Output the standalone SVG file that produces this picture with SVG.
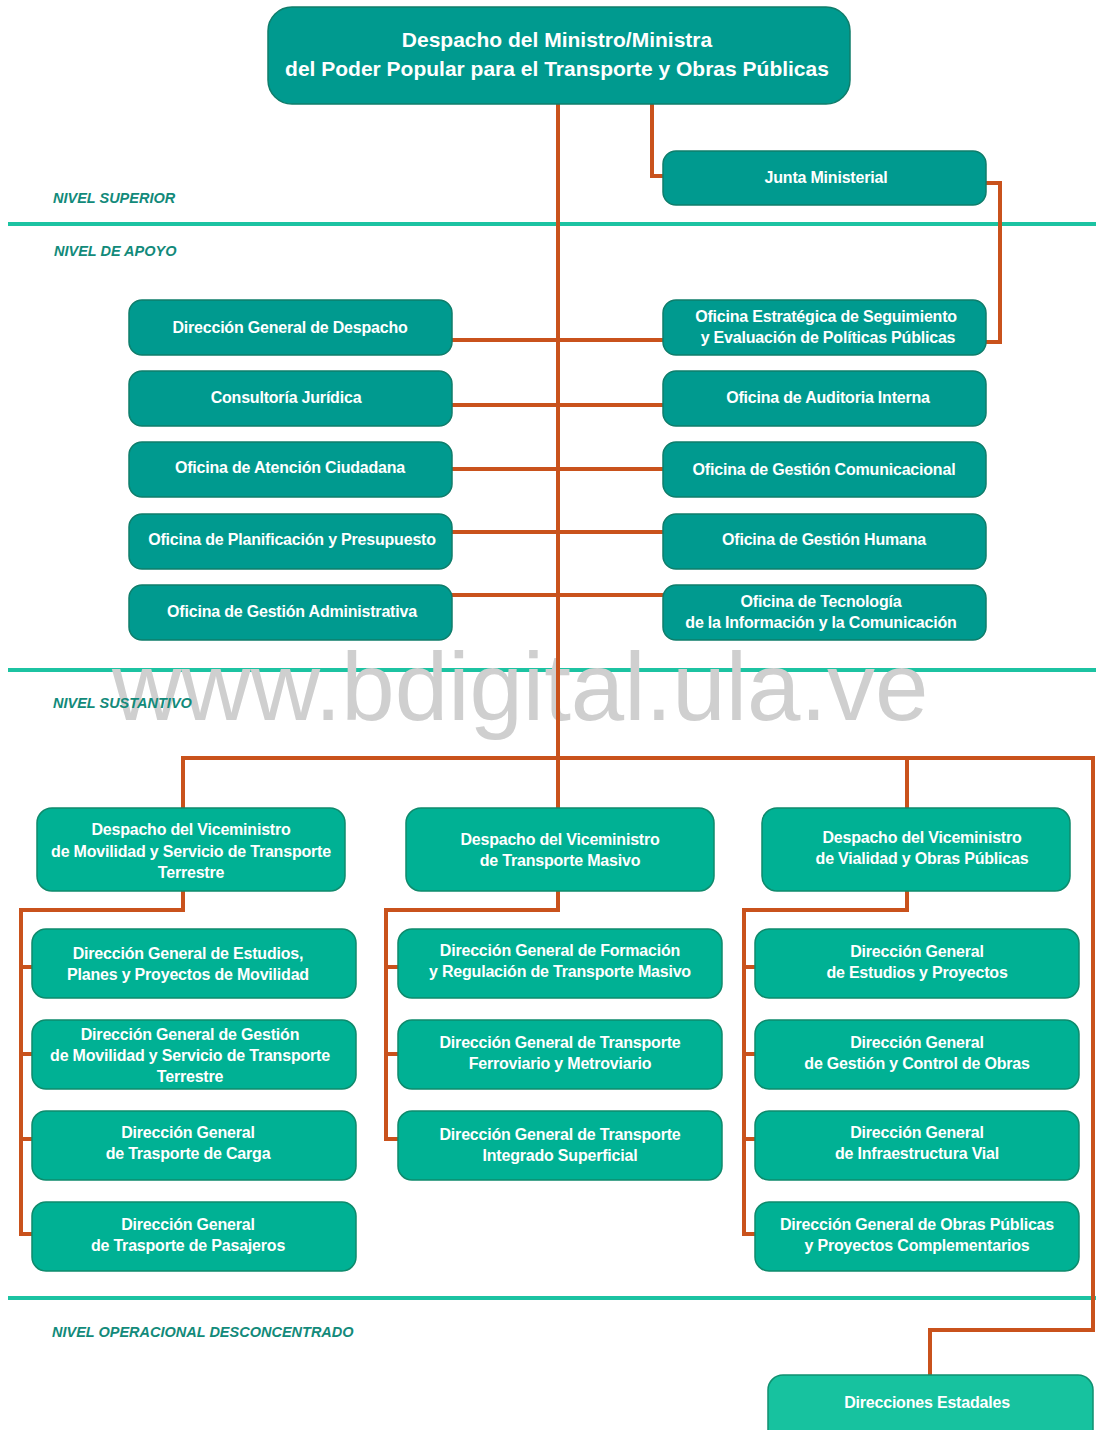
<svg xmlns="http://www.w3.org/2000/svg" width="1096" height="1430" viewBox="0 0 1096 1430">
<style>
.bg{fill:#ffffff}
.sep{stroke:#1cc3a2;stroke-width:4;fill:none}
.lvl{font-family:"Liberation Sans",Arial,sans-serif;font-weight:bold;font-style:italic;font-size:14.5px;fill:#128a7a}
.wm{font-family:"Liberation Sans",Arial,sans-serif;font-size:96px;fill:#cfcfcf}
.c{stroke:#c9521c;stroke-width:4;fill:none;stroke-linejoin:miter}
.d{fill:#009a8f;stroke:#0f7d6b;stroke-width:1.5}
.l{fill:#00b194;stroke:#0e8a6c;stroke-width:1.5}
.e{fill:#17c29f;stroke:#109070;stroke-width:1.5}
.t{font-family:"Liberation Sans",Arial,sans-serif;font-weight:bold;font-size:16px;fill:#ffffff;text-anchor:middle;letter-spacing:-0.2px}
.tb{font-family:"Liberation Sans",Arial,sans-serif;font-weight:bold;font-size:21px;fill:#ffffff;text-anchor:middle}
</style>
<rect class="bg" x="0" y="0" width="1096" height="1430"/>

<g id="separators">
<line class="sep" x1="8" y1="224" x2="1096" y2="224"/>
<line class="sep" x1="8" y1="670" x2="1096" y2="670"/>
<line class="sep" x1="8" y1="1298" x2="1096" y2="1298"/>
</g>

<text class="wm" x="112" y="720">www.bdigital.ula.ve</text>

<g id="levels">
<text class="lvl" x="53" y="203">NIVEL SUPERIOR</text>
<text class="lvl" x="54" y="256">NIVEL DE APOYO</text>
<text class="lvl" x="53" y="708">NIVEL SUSTANTIVO</text>
<text class="lvl" x="52" y="1337">NIVEL OPERACIONAL DESCONCENTRADO</text>
</g>

<g id="connectors">
<path class="c" d="M558 104 V758"/>
<path class="c" d="M652 104 V176 H665"/>
<path class="c" d="M986 183 H1000 V342 H986"/>
<path class="c" d="M452 340 H663"/>
<path class="c" d="M452 405 H663"/>
<path class="c" d="M452 469 H663"/>
<path class="c" d="M452 532 H663"/>
<path class="c" d="M452 595 H663"/>
<path class="c" d="M183 808 V758 H1093 V1330 H930 V1375"/>
<path class="c" d="M558 758 V808"/>
<path class="c" d="M907 758 V808"/>
<path class="c" d="M183 891 V910 H21 V1234 H32"/>
<path class="c" d="M21 967 H32 M21 1054 H32 M21 1139 H32"/>
<path class="c" d="M558 891 V910 H386 V1139 H398"/>
<path class="c" d="M386 967 H398 M386 1054 H398"/>
<path class="c" d="M907 891 V910 H744 V1234 H755"/>
<path class="c" d="M744 967 H755 M744 1054 H755 M744 1139 H755"/>
</g>

<g id="n-ministro">
<rect class="d" x="268" y="7" width="582" height="97" rx="24"/>
<text class="tb" x="557" y="47">Despacho del Ministro/Ministra</text>
<text class="tb" x="557" y="76">del Poder Popular para el Transporte y Obras Públicas</text>
</g>
<g id="n-junta">
<rect class="d" x="663" y="151" width="323" height="54" rx="13"/>
<text class="t" x="826" y="183">Junta Ministerial</text>
</g>

<g id="n-dg-despacho">
<rect class="d" x="129" y="300" width="323" height="55" rx="13"/>
<text class="t" x="290" y="333">Dirección General de Despacho</text>
</g>
<g id="n-consultoria">
<rect class="d" x="129" y="371" width="323" height="55" rx="13"/>
<text class="t" x="286" y="403">Consultoría Jurídica</text>
</g>
<g id="n-atencion">
<rect class="d" x="129" y="442" width="323" height="55" rx="13"/>
<text class="t" x="290" y="473">Oficina de Atención Ciudadana</text>
</g>
<g id="n-planificacion">
<rect class="d" x="129" y="514" width="323" height="55" rx="13"/>
<text class="t" x="292" y="545">Oficina de Planificación y Presupuesto</text>
</g>
<g id="n-administrativa">
<rect class="d" x="129" y="585" width="323" height="55" rx="13"/>
<text class="t" x="292" y="617">Oficina de Gestión Administrativa</text>
</g>

<g id="n-estrategica">
<rect class="d" x="663" y="300" width="323" height="55" rx="13"/>
<text class="t" x="826" y="322">Oficina Estratégica de Seguimiento</text>
<text class="t" x="828" y="343">y Evaluación de Políticas Públicas</text>
</g>
<g id="n-auditoria">
<rect class="d" x="663" y="371" width="323" height="55" rx="13"/>
<text class="t" x="828" y="403">Oficina de Auditoria Interna</text>
</g>
<g id="n-comunicacional">
<rect class="d" x="663" y="442" width="323" height="55" rx="13"/>
<text class="t" x="824" y="475">Oficina de Gestión Comunicacional</text>
</g>
<g id="n-humana">
<rect class="d" x="663" y="514" width="323" height="55" rx="13"/>
<text class="t" x="824" y="545">Oficina de Gestión Humana</text>
</g>
<g id="n-tecnologia">
<rect class="d" x="663" y="585" width="323" height="55" rx="13"/>
<text class="t" x="821" y="607">Oficina de Tecnología</text>
<text class="t" x="821" y="628">de la Información y la Comunicación</text>
</g>

<g id="n-vm-movilidad">
<rect class="l" x="37" y="808" width="308" height="83" rx="15"/>
<text class="t" x="191" y="835">Despacho del Viceministro</text>
<text class="t" x="191" y="857">de Movilidad y Servicio de Transporte</text>
<text class="t" x="191" y="878">Terrestre</text>
</g>
<g id="n-vm-masivo">
<rect class="l" x="406" y="808" width="308" height="83" rx="15"/>
<text class="t" x="560" y="845">Despacho del Viceministro</text>
<text class="t" x="560" y="866">de Transporte Masivo</text>
</g>
<g id="n-vm-vialidad">
<rect class="l" x="762" y="808" width="308" height="83" rx="15"/>
<text class="t" x="922" y="843">Despacho del Viceministro</text>
<text class="t" x="922" y="864">de Vialidad y Obras Públicas</text>
</g>

<g id="n-dg-estudios-movilidad">
<rect class="l" x="32" y="929" width="324" height="69" rx="14"/>
<text class="t" x="188" y="959">Dirección General de Estudios,</text>
<text class="t" x="188" y="980">Planes y Proyectos de Movilidad</text>
</g>
<g id="n-dg-gestion-movilidad">
<rect class="l" x="32" y="1020" width="324" height="69" rx="14"/>
<text class="t" x="190" y="1040">Dirección General de Gestión</text>
<text class="t" x="190" y="1061">de Movilidad y Servicio de Transporte</text>
<text class="t" x="190" y="1082">Terrestre</text>
</g>
<g id="n-dg-carga">
<rect class="l" x="32" y="1111" width="324" height="69" rx="14"/>
<text class="t" x="188" y="1138">Dirección General</text>
<text class="t" x="188" y="1159">de Trasporte de Carga</text>
</g>
<g id="n-dg-pasajeros">
<rect class="l" x="32" y="1202" width="324" height="69" rx="14"/>
<text class="t" x="188" y="1230">Dirección General</text>
<text class="t" x="188" y="1251">de Trasporte de Pasajeros</text>
</g>

<g id="n-dg-formacion">
<rect class="l" x="398" y="929" width="324" height="69" rx="14"/>
<text class="t" x="560" y="956">Dirección General de Formación</text>
<text class="t" x="560" y="977">y Regulación de Transporte Masivo</text>
</g>
<g id="n-dg-ferroviario">
<rect class="l" x="398" y="1020" width="324" height="69" rx="14"/>
<text class="t" x="560" y="1048">Dirección General de Transporte</text>
<text class="t" x="560" y="1069">Ferroviario y Metroviario</text>
</g>
<g id="n-dg-superficial">
<rect class="l" x="398" y="1111" width="324" height="69" rx="14"/>
<text class="t" x="560" y="1140">Dirección General de Transporte</text>
<text class="t" x="560" y="1161">Integrado Superficial</text>
</g>

<g id="n-dg-estudios-proyectos">
<rect class="l" x="755" y="929" width="324" height="69" rx="14"/>
<text class="t" x="917" y="957">Dirección General</text>
<text class="t" x="917" y="978">de Estudios y Proyectos</text>
</g>
<g id="n-dg-control-obras">
<rect class="l" x="755" y="1020" width="324" height="69" rx="14"/>
<text class="t" x="917" y="1048">Dirección General</text>
<text class="t" x="917" y="1069">de Gestión y Control de Obras</text>
</g>
<g id="n-dg-infraestructura">
<rect class="l" x="755" y="1111" width="324" height="69" rx="14"/>
<text class="t" x="917" y="1138">Dirección General</text>
<text class="t" x="917" y="1159">de Infraestructura Vial</text>
</g>
<g id="n-dg-obras-publicas">
<rect class="l" x="755" y="1202" width="324" height="69" rx="14"/>
<text class="t" x="917" y="1230">Dirección General de Obras Públicas</text>
<text class="t" x="917" y="1251">y Proyectos Complementarios</text>
</g>

<g id="n-estadales">
<rect class="e" x="768" y="1375" width="325" height="70" rx="15"/>
<text class="t" x="927" y="1408">Direcciones Estadales</text>
</g>
</svg>
